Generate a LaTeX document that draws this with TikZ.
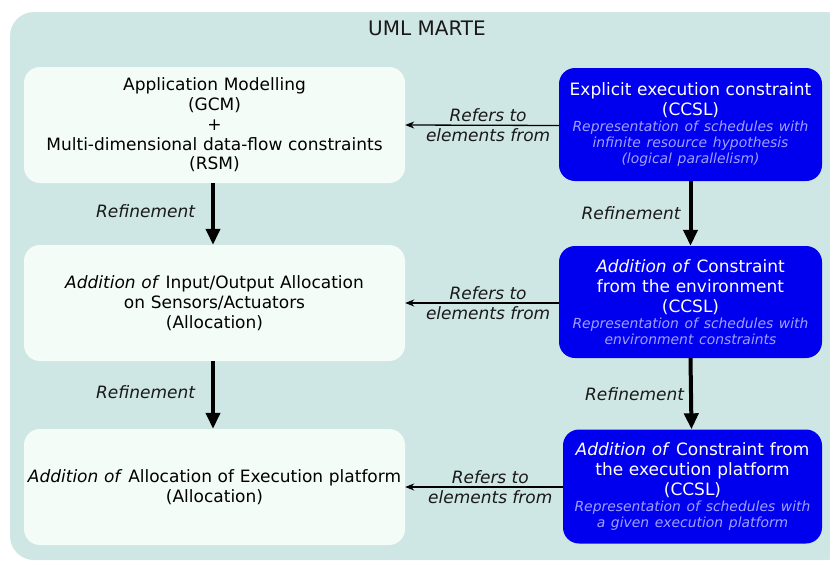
\documentclass[tikz,border=0pt]{standalone}
\usepackage{fontspec}
\setmainfont{DejaVu Sans}
\usetikzlibrary{arrows.meta}
\definecolor{bgteal}{HTML}{CFE7E4}
\definecolor{lightbox}{HTML}{F4FCF7}
\definecolor{bluebox}{HTML}{0000EE}
\definecolor{subtext}{HTML}{A0A0FF}
\newcommand{\mainsz}{\fontsize{17}{19.8}\selectfont}
\newcommand{\subsz}{\fontsize{13.9}{16}\selectfont\itshape\color{subtext}}
\tikzset{
  leftbox/.style={draw=none, fill=lightbox, rounded corners=16pt, minimum width=381pt, minimum height=116pt, text width=375pt, align=center, font=\mainsz, inner sep=0pt},
  rightbox/.style={draw=none, fill=bluebox, rounded corners=16pt, minimum height=113pt, text width=262pt, align=center, font=\mainsz, text=white, inner sep=0pt},
  refarrow/.style={draw=black, line width=1.3pt, -{Stealth[length=9pt,width=7pt]}},
  refine/.style={draw=black, line width=4pt, -{Triangle[length=16pt,width=14pt]}},
  reflabel/.style={font=\mainsz\itshape, text=black!90, inner sep=0pt},
}
\begin{document}
\begin{tikzpicture}[x=1pt,y=-1pt]
\useasboundingbox (0,0) rectangle (830,562);
\fill[bgteal, rounded corners=24pt] (10,12) rectangle (850,560);
\node[font=\fontsize{20}{24}\selectfont, text=black!90] (title) at (427,28) {UML MARTE};

\node[leftbox] (l1) at (214.5,125) {Application Modelling\\(GCM)\\+\\Multi-dimensional data-flow constraints\\(RSM)};
\node[leftbox] (l2) at (214.5,303) {\textit{Addition of} Input/Output Allocation\\on Sensors/Actuators\\(Allocation)};
\node[leftbox] (l3) at (214.5,487) {\textit{Addition of} Allocation of Execution platform\\(Allocation)};

\node[rightbox, minimum width=263pt] (r1) at (690.5,124.5) {Explicit execution constraint\\(CCSL)\par{\subsz Representation of schedules with\\infinite resource hypothesis\\(logical parallelism)\par}};
\node[rightbox, minimum width=263pt, minimum height=112pt] (r2) at (690.5,302) {\textit{Addition of} Constraint\\from the environment\\(CCSL)\par{\subsz Representation of schedules with\\environment constraints\par}};
\node[rightbox, minimum width=259pt, minimum height=114pt, text width=258pt] (r3) at (692.5,486.5) {\textit{Addition of} Constraint from\\the execution platform\\(CCSL)\par{\subsz Representation of schedules with\\a given execution platform\par}};

\draw[refarrow] ([yshift=-1pt]r1.west) -- (l1.east) node[pos=0.46, above=3pt, reflabel] (t1a) {Refers to} node[pos=0.46, below=2.5pt, reflabel] (t1b) {elements from};
\draw[refarrow] ([yshift=-1pt]r2.west) -- (l2.east) node[pos=0.46, above=3pt, reflabel] (t2a) {Refers to} node[pos=0.46, below=2.5pt, reflabel] (t2b) {elements from};
\draw[refarrow] ([yshift=-0.5pt]r3.west) -- (l3.east) node[pos=0.46, above=3pt, reflabel] (t3a) {Refers to} node[pos=0.46, below=2.5pt, reflabel] (t3b) {elements from};

\draw[refine] ([xshift=-1.5pt]l1.south) -- ([xshift=-1.5pt]l2.north) node[midway, left=16pt, reflabel, yshift=3pt] (f1) {Refinement};
\draw[refine] ([xshift=-1.5pt]l2.south) -- ([xshift=-1.5pt]l3.north) node[midway, left=16pt, reflabel, yshift=3pt] (f2) {Refinement};
\draw[refine] (r1.south) -- (r2.north) node[midway, left=8pt, reflabel] (f3) {Refinement};
\draw[refine] (r2.south) -- ([xshift=-1pt]r3.north) node[midway, left=5pt, reflabel] (f4) {Refinement};
\end{tikzpicture}
\end{document}
